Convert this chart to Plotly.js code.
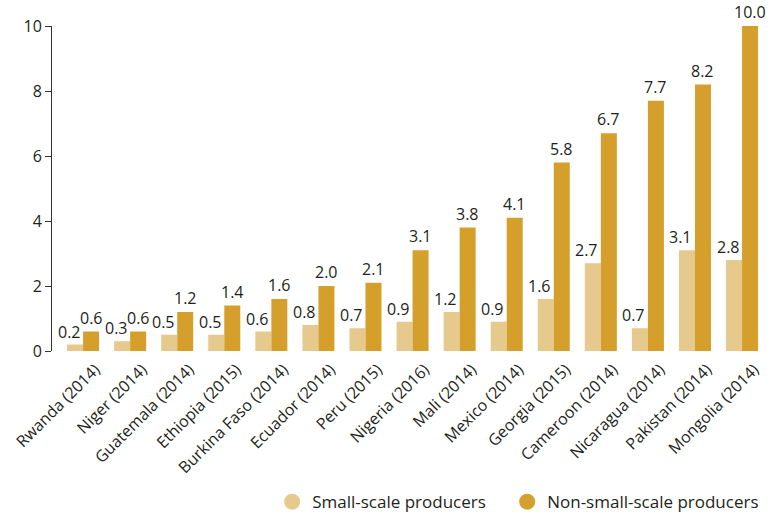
<!DOCTYPE html>
<html><head><meta charset="utf-8">
<script src="https://cdn.plot.ly/plotly-3.0.1.min.js"></script>
<style>html,body{margin:0;padding:0;background:#fff}#chart{width:777px;height:515px}</style>
</head><body><div id="chart"></div>
<script>
const categories = ["Rwanda (2014)","Niger (2014)","Guatemala (2014)","Ethiopia (2015)","Burkina Faso (2014)","Ecuador (2014)","Peru (2015)","Nigeria (2016)","Mali (2014)","Mexico (2014)","Georgia (2015)","Cameroon (2014)","Nicaragua (2014)","Pakistan (2014)","Mongolia (2014)"];
const smallScale = [0.2,0.3,0.5,0.5,0.6,0.8,0.7,0.9,1.2,0.9,1.6,2.7,0.7,3.1,2.8];
const nonSmallScale = [0.6,0.6,1.2,1.4,1.6,2.0,2.1,3.1,3.8,4.1,5.8,6.7,7.7,8.2,10.0];
const seriesNames = ["Small-scale producers","Non-small-scale producers"];
const colSmall = "#E6C98C", colBig = "#D4A02B";
const font = "'Open Sans', sans-serif";
const txtCol = "#231f20";
const traces = [
  {type:"bar", x:categories, y:smallScale, marker:{color:colSmall}, showlegend:false, hoverinfo:"skip"},
  {type:"bar", x:categories, y:nonSmallScale, marker:{color:colBig}, showlegend:false, hoverinfo:"skip"},
  {type:"scatter", mode:"markers", x:[null], y:[null], name:seriesNames[0], legendwidth:190, marker:{symbol:"circle", size:16, color:colSmall}},
  {type:"scatter", mode:"markers", x:[null], y:[null], name:seriesNames[1], marker:{symbol:"circle", size:16, color:colBig}}
];
const annotations = [];
categories.forEach((c,i)=>{
  annotations.push({x:c, y:smallScale[i], xref:"x", yref:"y", text:smallScale[i].toFixed(1), showarrow:false, xanchor:"center", yanchor:"bottom", xshift:-14, yshift:0, font:{size:16,color:txtCol,family:font}});
  annotations.push({x:c, y:nonSmallScale[i], xref:"x", yref:"y", text:nonSmallScale[i].toFixed(1), showarrow:false, xanchor:"center", yanchor:"bottom", xshift:8, yshift:1, font:{size:16,color:txtCol,family:font}});
});
const layout = {
  width:777, height:515,
  margin:{l:52, r:18, t:26, b:164},
  paper_bgcolor:"#fff", plot_bgcolor:"#fff",
  font:{family:font, size:16, color:txtCol},
  barmode:"group", bargap:0.32, bargroupgap:0,
  annotations: annotations,
  xaxis:{type:"category", range:[-0.66,14.36], tickangle:-45, automargin:false, showline:false, ticks:"", showgrid:false, zeroline:false, tickfont:{size:16, color:txtCol}, ticklabelshift:12, ticklabelstandoff:5},
  yaxis:{range:[0,10], automargin:false, tickvals:[0,2,4,6,8,10], showline:true, linecolor:"#333", linewidth:1, ticks:"outside", ticklen:6, tickcolor:"#333", showgrid:false, zeroline:false, tickfont:{size:16,color:txtCol}},
  legend:{orientation:"h", xref:"container", yref:"container", x:0.9835, xanchor:"right", y:0.025, yanchor:"middle", font:{size:17,color:txtCol}, itemsizing:"trace", tracegroupgap:0},
  showlegend:true
};
Plotly.newPlot("chart", traces, layout, {staticPlot:true, displayModeBar:false});
</script></body></html>
